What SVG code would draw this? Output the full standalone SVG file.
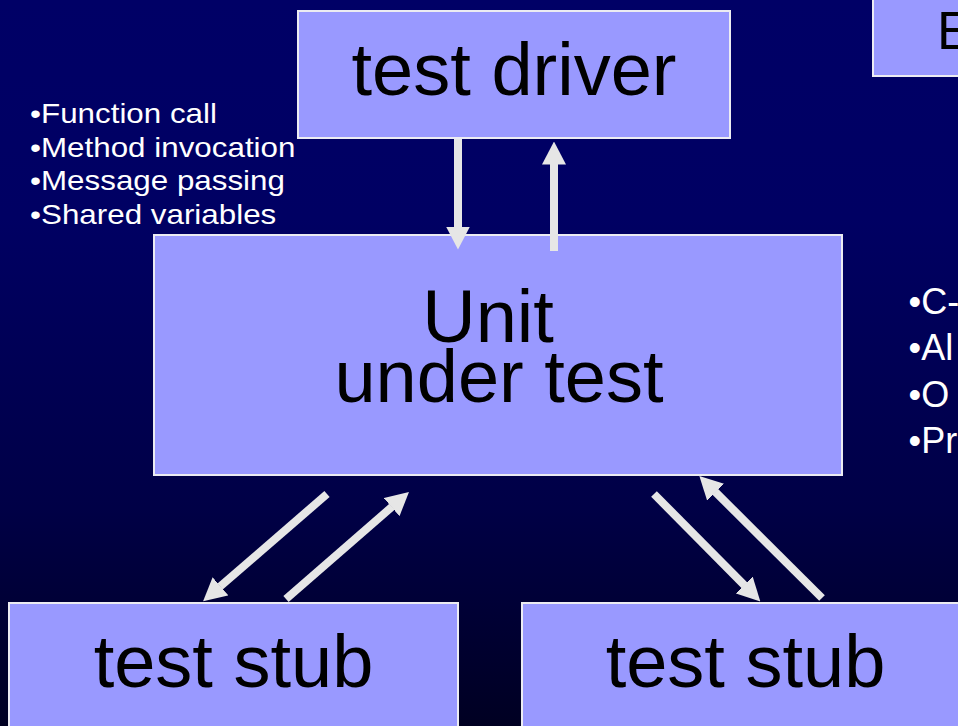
<svg xmlns="http://www.w3.org/2000/svg" width="958" height="726" viewBox="0 0 958 726">
  <defs>
    <linearGradient id="bg" x1="0" y1="0" x2="0" y2="1">
      <stop offset="0" stop-color="#000066"/>
      <stop offset="0.3" stop-color="#000063"/>
      <stop offset="0.7" stop-color="#000046"/>
      <stop offset="1" stop-color="#000022"/>
    </linearGradient>
    <marker id="head" viewBox="0 0 23 24" markerUnits="userSpaceOnUse" markerWidth="23" markerHeight="24" refX="0.5" refY="12" orient="auto">
      <path d="M0,0 L23,12 L0,24 z" fill="#E6E6E6"/>
    </marker>
    <style>
      .box { fill: #9999FF; stroke: #ECECF2; stroke-width: 2; }
      .label { font-family: "Liberation Sans", Arial, sans-serif; font-size: 74px; fill: #000000; text-anchor: middle; }
      .note { font-family: "Liberation Sans", Arial, sans-serif; font-size: 28px; fill: #FFFFFF; }
      .note-r { font-family: "Liberation Sans", Arial, sans-serif; font-size: 36px; fill: #FFFFFF; }
      .flow { stroke: #E6E6E6; stroke-width: 8; stroke-linecap: butt; fill: none; marker-end: url(#head); }
    </style>
  </defs>

  <!-- background -->
  <rect x="0" y="0" width="958" height="726" fill="url(#bg)"/>

  <!-- partly visible box at the top right -->
  <g id="box-e">
    <rect class="box" x="873" y="-10" width="120" height="86"/>
    <text x="937" y="49" font-family="'Liberation Sans', Arial, sans-serif" font-size="53" fill="#000000">E</text>
  </g>

  <g id="test-driver">
    <rect class="box" x="298" y="11" width="432" height="127"/>
    <text class="label" x="514" y="95">test driver</text>
  </g>

  <g id="unit-under-test">
    <rect class="box" x="154" y="235" width="688" height="240"/>
    <text class="label" x="488" y="342">Unit</text>
    <text class="label" x="499" y="402">under test</text>
  </g>

  <g id="test-stub-left">
    <rect class="box" x="9" y="603" width="449" height="140"/>
    <text class="label" x="233.5" y="687">test stub</text>
  </g>

  <g id="test-stub-right">
    <rect class="box" x="522" y="603" width="447" height="140"/>
    <text class="label" x="745.5" y="687">test stub</text>
  </g>

  <!-- interface mechanisms list (slightly widened type) -->
  <g id="mechanisms" transform="translate(30 0) scale(1.12 1)">
    <text class="note" x="0" y="123.5">•Function call</text>
    <text class="note" x="0" y="157">•Method invocation</text>
    <text class="note" x="0" y="190.5">•Message passing</text>
    <text class="note" x="0" y="224.5">•Shared variables</text>
  </g>

  <!-- right-hand list, running off the edge -->
  <g id="right-list">
    <text class="note-r" x="908.6" y="313.5">•C-</text>
    <text class="note-r" x="908.6" y="360">•Al</text>
    <text class="note-r" x="908.6" y="406.5">•O</text>
    <text class="note-r" x="908.6" y="453">•Pr</text>
  </g>

  <!-- connectors -->
  <g id="connectors">
    <line class="flow" x1="458" y1="139" x2="458" y2="227"/>
    <line class="flow" x1="554" y1="251" x2="554" y2="164"/>
    <line class="flow" x1="327" y1="494" x2="220.1" y2="586.6"/>
    <line class="flow" x1="286" y1="599" x2="392" y2="506.8"/>
    <line class="flow" x1="654" y1="494" x2="744.5" y2="585.4"/>
    <line class="flow" x1="822" y1="598" x2="715.3" y2="491.9"/>
  </g>
</svg>
